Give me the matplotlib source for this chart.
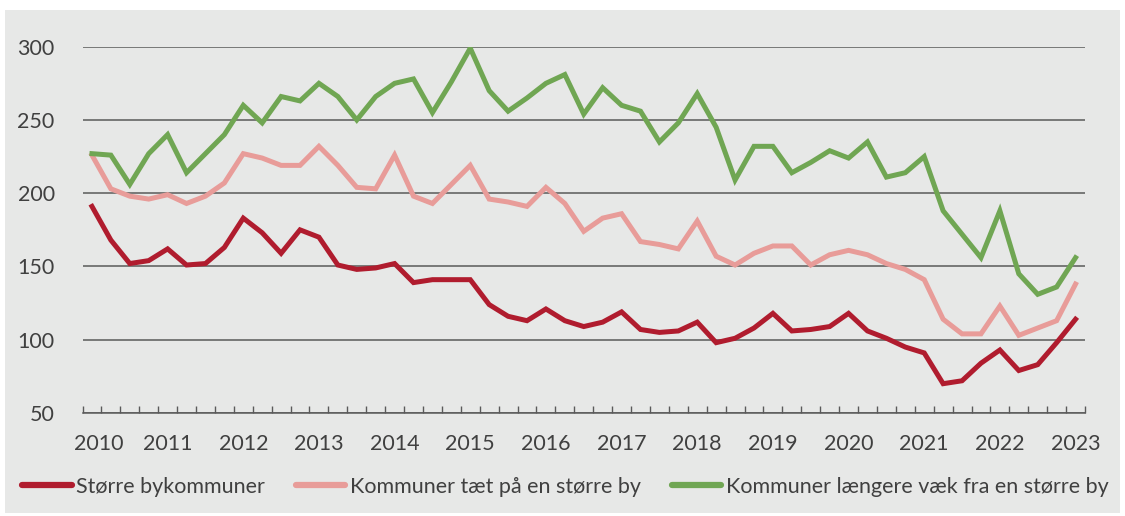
import matplotlib
matplotlib.use("Agg")
import matplotlib.pyplot as plt
import matplotlib.transforms as mtransforms
from matplotlib.patches import Rectangle
import numpy as np

plt.rcParams['font.family'] = ['Lato', 'DejaVu Sans']

years = ["2010", "2011", "2012", "2013", "2014", "2015", "2016",
         "2017", "2018", "2019", "2020", "2021", "2022", "2023"]

stoerre_by = [191, 168, 152, 154, 162, 151, 152, 163,
              183, 173, 159, 175, 170, 151, 148, 149,
              152, 139, 141, 141, 141, 124, 116, 113,
              121, 113, 109, 112, 119, 107, 105, 106,
              112, 98, 101, 108, 118, 106, 107, 109,
              118, 106, 101, 95, 91, 70, 72, 84,
              93, 79, 83, 98, 114]

taet_paa = [226, 203, 198, 196, 199, 193, 198, 207,
            227, 224, 219, 219, 232, 219, 204, 203,
            226, 198, 193, 206, 219, 196, 194, 191,
            204, 193, 174, 183, 186, 167, 165, 162,
            181, 157, 151, 159, 164, 164, 151, 158,
            161, 158, 152, 148, 141, 114, 104, 104,
            123, 103, 108, 113, 138]

laengere_vaek = [227, 226, 206, 227, 240, 214, 227, 240,
                 260, 248, 266, 263, 275, 266, 250, 266,
                 275, 278, 255, 276, 299, 270, 256, 265,
                 275, 281, 254, 272, 260, 256, 235, 248,
                 268, 245, 209, 232, 232, 214, 221, 229,
                 224, 235, 211, 214, 225, 188, 172, 156,
                 188, 145, 131, 136, 156]

series_names = ["Større bykommuner", "Kommuner tæt på en større by",
                "Kommuner længere væk fra en større by"]
colors = ["#b01c2e", "#e89c99", "#70a653"]

fig = plt.figure(figsize=(11.25, 5.16), dpi=100, facecolor="white")
bg = Rectangle((5 / 1125, 1 - 513 / 516), 1115 / 1125, 503 / 516,
               transform=fig.transFigure, facecolor="#e7e8e7",
               edgecolor="none", zorder=-10)
fig.add_artist(bg)

ax = fig.add_axes([82.5 / 1125, 1 - 413 / 516, (1085 - 82.5) / 1125, (413 - 46.7) / 516])
ax.set_facecolor("none")

x = np.arange(len(stoerre_by))
for vals, name, c in zip([stoerre_by, taet_paa, laengere_vaek], series_names, colors):
    ax.plot(x, vals, color=c, lw=3.6, label=name, solid_joinstyle="miter", zorder=3)

ax.set_xlim(-0.5, len(x) - 0.5)
ax.set_ylim(50, 300)
ax.set_yticks([50, 100, 150, 200, 250, 300])
ax.yaxis.grid(True, color="#5a5a5a", lw=1.1)
ax.set_axisbelow(True)
for s in ["top", "right", "left"]:
    ax.spines[s].set_visible(False)
ax.spines["bottom"].set_color("#5a5a5a")
ax.spines["bottom"].set_linewidth(1.1)

ax.set_xticks(np.arange(0, len(x), 4))
ax.set_xticklabels(years)
ax.set_xticks(np.arange(-0.5, len(x), 1), minor=True)
ax.tick_params(axis="x", which="major", length=0, pad=15, labelsize=15.5, labelcolor="#404040")
ax.tick_params(axis="x", which="minor", length=5, direction="in", color="#5a5a5a", width=1.0)
ax.tick_params(axis="y", length=0, pad=20, labelsize=15.5, labelcolor="#404040")
for lab in ax.get_yticklabels():
    lab.set_horizontalalignment("right")

# first year label shifted slightly right as in the reference
first = ax.get_xticklabels()[0]
first.set_transform(first.get_transform() + mtransforms.ScaledTranslation(7 / 100, 0, fig.dpi_scale_trans))

leg = fig.legend(loc="center left", bbox_to_anchor=(22 / 1125, 1 - 487 / 516), ncol=3,
                 frameon=False, fontsize=15.5, handlelength=2.3, handletextpad=0.2,
                 columnspacing=1.45, borderaxespad=0, borderpad=0)
for t in leg.get_texts():
    t.set_color("#404040")
for h in leg.get_lines():
    h.set_linewidth(4.5)
    h.set_solid_capstyle("round")

fig.savefig("out.png", dpi=100, facecolor="white")
